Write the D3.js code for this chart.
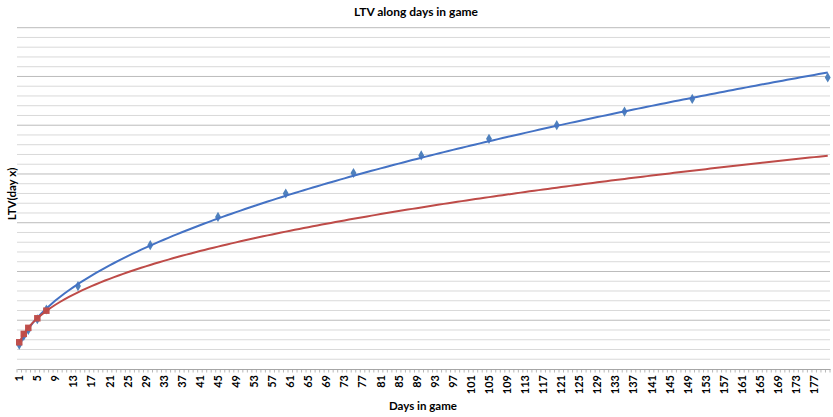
<!DOCTYPE html>
<html><head><meta charset="utf-8">
<script src="https://cdn.jsdelivr.net/npm/d3@7"></script>
<style>body{margin:0;background:#fff}svg{display:block;font-family:Lato,"Open Sans",sans-serif}</style>
</head><body><svg id="c" width="833" height="417"></svg>
<script>
// Days on the category axis
const categories = d3.range(1, 181);
const tickLabels = categories.filter((d, i) => i % 4 === 0);
// Series 1 (blue diamonds)
const blueDays   = [1, 2, 3, 5, 7, 14, 30, 45, 60, 75, 90, 105, 120, 135, 150, 180];
const blueValues = [2.5, 3.4, 4.0, 5.1, 6.1, 8.5, 12.7, 15.6, 18.0, 20.1, 21.9, 23.6, 25.0, 26.4, 27.7, 29.9];
// Series 2 (red squares)
const redDays   = [1, 2, 3, 5, 7];
const redValues = [2.74, 3.6, 4.22, 5.2, 5.98];
const yMax = 35;

const svg = d3.select("#c");
const L = 17, R = 830, T = 27.7, B = 369;
const x = d3.scaleBand().domain(categories).range([L, R]).padding(0);
const cx = d => x(d) + x.bandwidth() / 2;
const y = d3.scaleLinear().domain([0, yMax]).range([B, T]);

// gridlines
svg.append("g").selectAll("line").data(d3.range(1, yMax + 1)).join("line")
  .attr("x1", L).attr("x2", R)
  .attr("y1", d => y(d)).attr("y2", d => y(d))
  .attr("stroke", d => d % 5 === 0 ? "#bcbcbc" : "#d9d9d9")
  .attr("stroke-width", 1);

// x axis
const xAxis = d3.axisBottom(x).tickValues(tickLabels).tickSize(0).tickPadding(0);
const gx = svg.append("g").attr("transform", `translate(0,${B})`).call(xAxis);
gx.select(".domain").attr("stroke", "#a6a6a6");
gx.selectAll(".tick text")
  .attr("transform", "rotate(-90)")
  .attr("text-anchor", "end")
  .attr("x", -6).attr("y", 0).attr("dy", "0.36em")
  .attr("font-family", "Lato, sans-serif")
  .attr("font-size", 11).attr("font-weight", "bold").attr("fill", "#000");
// minor tick marks at category boundaries
svg.append("g").selectAll("line").data(categories.concat([181])).join("line")
  .attr("x1", (d, i) => L + i * x.bandwidth()).attr("x2", (d, i) => L + i * x.bandwidth())
  .attr("y1", B).attr("y2", B + 3.5)
  .attr("stroke", "#a6a6a6").attr("stroke-width", 0.8);

// power regression (trendline) from the data
function powerFit(xs, ys) {
  const lx = xs.map(Math.log), ly = ys.map(Math.log);
  const mx = d3.mean(lx), my = d3.mean(ly);
  let sxy = 0, sxx = 0;
  lx.forEach((v, i) => { sxy += (v - mx) * (ly[i] - my); sxx += (v - mx) * (v - mx); });
  const b = sxy / sxx, a = Math.exp(my - b * mx);
  return t => a * Math.pow(t, b);
}
const blueFit = powerFit(blueDays, blueValues);
const redFit = powerFit(redDays, redValues);
const line = f => d3.line().x(d => cx(d)).y(d => y(f(d)))(categories);

const blue = "#4F81BD", blueLine = "#4472C4", red = "#C0504D", redLine = "#BE4B48";

svg.append("g").selectAll("path").data(blueDays.map((d, i) => [d, blueValues[i]])).join("path")
  .attr("d", d3.symbol(d3.symbolDiamond, 30))
  .attr("transform", d => `translate(${cx(d[0])},${y(d[1])})`)
  .attr("fill", blue);
svg.append("path").attr("d", line(blueFit)).attr("fill", "none")
  .attr("stroke", blueLine).attr("stroke-width", 2);

svg.append("g").selectAll("path").data(redDays.map((d, i) => [d, redValues[i]])).join("path")
  .attr("d", d3.symbol(d3.symbolSquare, 42))
  .attr("transform", d => `translate(${cx(d[0])},${y(d[1])})`)
  .attr("fill", red);
svg.append("path").attr("d", line(redFit)).attr("fill", "none")
  .attr("stroke", redLine).attr("stroke-width", 2);

// titles
svg.append("text").attr("x", 416).attr("y", 16).attr("text-anchor", "middle")
  .attr("font-size", 12).attr("font-weight", "bold").text("LTV along days in game");
svg.append("text").attr("x", 423).attr("y", 410).attr("text-anchor", "middle")
  .attr("font-size", 11.5).attr("font-weight", "bold").text("Days in game");
svg.append("text").attr("transform", "translate(15.5,194) rotate(-90)").attr("text-anchor", "middle")
  .attr("font-size", 11.5).attr("font-weight", "bold").text("LTV(day x)");
</script></body></html>
